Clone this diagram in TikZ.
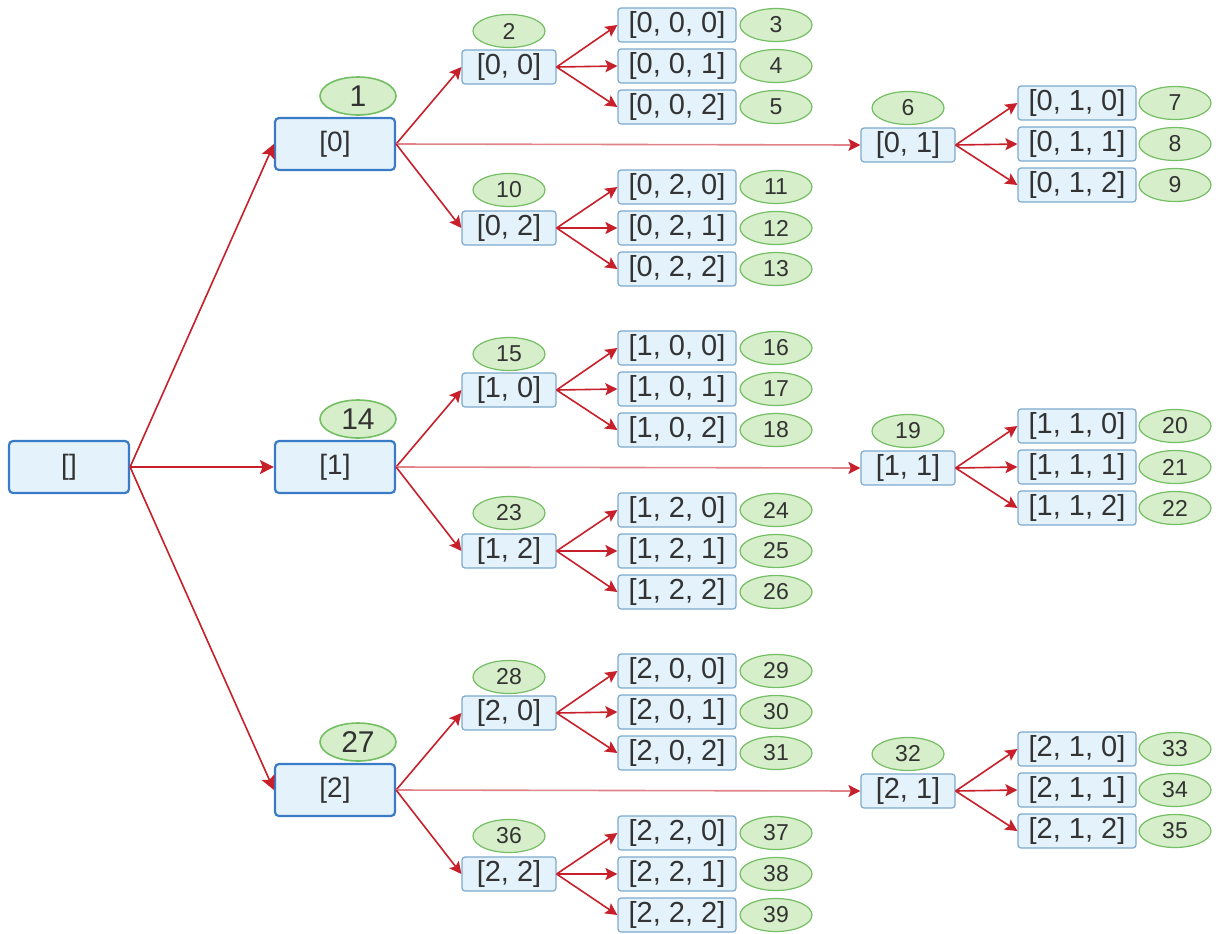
\documentclass[tikz,border=0pt]{standalone}
\usepackage{fontspec}
\setmainfont{Liberation Sans}
\usetikzlibrary{shapes.geometric, arrows.meta}
\definecolor{bleufond}{HTML}{E4F2FB}
\definecolor{bleubord}{HTML}{3A7BC8}
\definecolor{bleuclair}{HTML}{7EA9CC}
\definecolor{vertfond}{HTML}{D6EEC9}
\definecolor{vertbord}{HTML}{74BE63}
\definecolor{rouge}{HTML}{C8202A}
\definecolor{texte}{HTML}{333333}

\begin{document}
\begin{tikzpicture}[x=0.5pt, y=-0.5pt,
    grandbox/.style={draw=bleubord, line width=1.1pt, fill=bleufond, rounded corners=2pt,
        minimum width=60pt, minimum height=26pt, inner sep=0pt, text=texte,
        font=\fontsize{14}{16}\selectfont},
    petitbox/.style={draw=bleuclair, line width=0.6pt, fill=bleufond, rounded corners=1.5pt,
        minimum width=47pt, minimum height=17pt, inner sep=0pt, text=texte,
        font=\fontsize{14.5}{16}\selectfont},
    feuille/.style={petitbox, minimum width=59pt},
    grandovale/.style={ellipse, draw=vertbord, line width=0.8pt, fill=vertfond,
        minimum width=38pt, minimum height=19pt, inner sep=0pt, text=texte,
        font=\fontsize{15}{16}\selectfont},
    petitovale/.style={grandovale, line width=0.6pt, minimum width=36pt,
        minimum height=16.5pt, font=\fontsize{11.5}{13}\selectfont},
    fleche/.style={draw=rouge, line width=0.8pt, -{Stealth[length=6pt, width=6pt, inset=1.2pt]}},
    grandefleche/.style={fleche, -{Stealth[length=7pt, width=7pt, inset=1.4pt]}},
    longue/.style={draw=rouge!55, line width=0.8pt, -{Stealth[length=6pt, width=6pt, inset=1.2pt, color=rouge]}}]

    \useasboundingbox (0,0) rectangle (1216,933);

    % Racine
    \node[grandbox] (r) at (69,467) {[]};

    % Niveau 1
    \node[grandbox] (n0) at (335,144) {[0]};
    \node[grandbox] (n1) at (335,467) {[1]};
    \node[grandbox] (n2) at (335,790) {[2]};
    \node[grandovale] (e1) at (358,96) {1};
    \node[grandovale] (e14) at (358,419) {14};
    \node[grandovale] (e27) at (358,742) {27};

    % Niveau 2
    \node[petitbox] (n00) at (509,67) {[0, 0]};
    \node[petitbox] (n01) at (908,145) {[0, 1]};
    \node[petitbox] (n02) at (509,228) {[0, 2]};
    \node[petitovale] (e2) at (509,31) {2};
    \node[petitovale] (e6) at (908,108) {6};
    \node[petitovale] (e10) at (509,190) {10};

    \node[petitbox] (n10) at (509,390) {[1, 0]};
    \node[petitbox] (n11) at (908,468) {[1, 1]};
    \node[petitbox] (n12) at (509,551) {[1, 2]};
    \node[petitovale] (e15) at (509,354) {15};
    \node[petitovale] (e19) at (908,431) {19};
    \node[petitovale] (e23) at (509,513) {23};

    \node[petitbox] (n20) at (509,713) {[2, 0]};
    \node[petitbox] (n21) at (908,791) {[2, 1]};
    \node[petitbox] (n22) at (509,874) {[2, 2]};
    \node[petitovale] (e28) at (509,677) {28};
    \node[petitovale] (e32) at (908,754) {32};
    \node[petitovale] (e36) at (509,836) {36};

    % Niveau 3
    \node[feuille] (n000) at (677,25) {[0, 0, 0]};
    \node[feuille] (n001) at (677,66) {[0, 0, 1]};
    \node[feuille] (n002) at (677,107) {[0, 0, 2]};
    \node[feuille] (n010) at (1077,103) {[0, 1, 0]};
    \node[feuille] (n011) at (1077,144) {[0, 1, 1]};
    \node[feuille] (n012) at (1077,185) {[0, 1, 2]};
    \node[feuille] (n020) at (677,187) {[0, 2, 0]};
    \node[feuille] (n021) at (677,228) {[0, 2, 1]};
    \node[feuille] (n022) at (677,269) {[0, 2, 2]};
    \node[petitovale] (e3) at (776,25) {3};
    \node[petitovale] (e4) at (776,66) {4};
    \node[petitovale] (e5) at (776,107) {5};
    \node[petitovale] (e7) at (1175,103) {7};
    \node[petitovale] (e8) at (1175,144) {8};
    \node[petitovale] (e9) at (1175,185) {9};
    \node[petitovale] (e11) at (776,187) {11};
    \node[petitovale] (e12) at (776,228) {12};
    \node[petitovale] (e13) at (776,269) {13};

    \node[feuille] (n100) at (677,348) {[1, 0, 0]};
    \node[feuille] (n101) at (677,389) {[1, 0, 1]};
    \node[feuille] (n102) at (677,430) {[1, 0, 2]};
    \node[feuille] (n110) at (1077,426) {[1, 1, 0]};
    \node[feuille] (n111) at (1077,467) {[1, 1, 1]};
    \node[feuille] (n112) at (1077,508) {[1, 1, 2]};
    \node[feuille] (n120) at (677,510) {[1, 2, 0]};
    \node[feuille] (n121) at (677,551) {[1, 2, 1]};
    \node[feuille] (n122) at (677,592) {[1, 2, 2]};
    \node[petitovale] (e16) at (776,348) {16};
    \node[petitovale] (e17) at (776,389) {17};
    \node[petitovale] (e18) at (776,430) {18};
    \node[petitovale] (e20) at (1175,426) {20};
    \node[petitovale] (e21) at (1175,467) {21};
    \node[petitovale] (e22) at (1175,508) {22};
    \node[petitovale] (e24) at (776,510) {24};
    \node[petitovale] (e25) at (776,551) {25};
    \node[petitovale] (e26) at (776,592) {26};

    \node[feuille] (n200) at (677,671) {[2, 0, 0]};
    \node[feuille] (n201) at (677,712) {[2, 0, 1]};
    \node[feuille] (n202) at (677,753) {[2, 0, 2]};
    \node[feuille] (n210) at (1077,749) {[2, 1, 0]};
    \node[feuille] (n211) at (1077,790) {[2, 1, 1]};
    \node[feuille] (n212) at (1077,831) {[2, 1, 2]};
    \node[feuille] (n220) at (677,833) {[2, 2, 0]};
    \node[feuille] (n221) at (677,874) {[2, 2, 1]};
    \node[feuille] (n222) at (677,915) {[2, 2, 2]};
    \node[petitovale] (e29) at (776,671) {29};
    \node[petitovale] (e30) at (776,712) {30};
    \node[petitovale] (e31) at (776,753) {31};
    \node[petitovale] (e33) at (1175,749) {33};
    \node[petitovale] (e34) at (1175,790) {34};
    \node[petitovale] (e35) at (1175,831) {35};
    \node[petitovale] (e37) at (776,833) {37};
    \node[petitovale] (e38) at (776,874) {38};
    \node[petitovale] (e39) at (776,915) {39};

    % Fleches
    \draw[grandefleche] (r.east) -- (n0.west);
    \draw[grandefleche] (r.east) -- (n1.west);
    \draw[grandefleche] (r.east) -- (n2.west);

    \draw[fleche] (n0.east) -- (n00.west);
    \draw[longue] (n0.east) -- (n01.west);
    \draw[fleche] (n0.east) -- (n02.west);
    \draw[fleche] (n1.east) -- (n10.west);
    \draw[longue] (n1.east) -- (n11.west);
    \draw[fleche] (n1.east) -- (n12.west);
    \draw[fleche] (n2.east) -- (n20.west);
    \draw[longue] (n2.east) -- (n21.west);
    \draw[fleche] (n2.east) -- (n22.west);

    \draw[fleche] (n00.east) -- (n000.west);
    \draw[fleche] (n00.east) -- (n001.west);
    \draw[fleche] (n00.east) -- (n002.west);
    \draw[fleche] (n01.east) -- (n010.west);
    \draw[fleche] (n01.east) -- (n011.west);
    \draw[fleche] (n01.east) -- (n012.west);
    \draw[fleche] (n02.east) -- (n020.west);
    \draw[fleche] (n02.east) -- (n021.west);
    \draw[fleche] (n02.east) -- (n022.west);

    \draw[fleche] (n10.east) -- (n100.west);
    \draw[fleche] (n10.east) -- (n101.west);
    \draw[fleche] (n10.east) -- (n102.west);
    \draw[fleche] (n11.east) -- (n110.west);
    \draw[fleche] (n11.east) -- (n111.west);
    \draw[fleche] (n11.east) -- (n112.west);
    \draw[fleche] (n12.east) -- (n120.west);
    \draw[fleche] (n12.east) -- (n121.west);
    \draw[fleche] (n12.east) -- (n122.west);

    \draw[fleche] (n20.east) -- (n200.west);
    \draw[fleche] (n20.east) -- (n201.west);
    \draw[fleche] (n20.east) -- (n202.west);
    \draw[fleche] (n21.east) -- (n210.west);
    \draw[fleche] (n21.east) -- (n211.west);
    \draw[fleche] (n21.east) -- (n212.west);
    \draw[fleche] (n22.east) -- (n220.west);
    \draw[fleche] (n22.east) -- (n221.west);
    \draw[fleche] (n22.east) -- (n222.west);
\end{tikzpicture}
\end{document}
